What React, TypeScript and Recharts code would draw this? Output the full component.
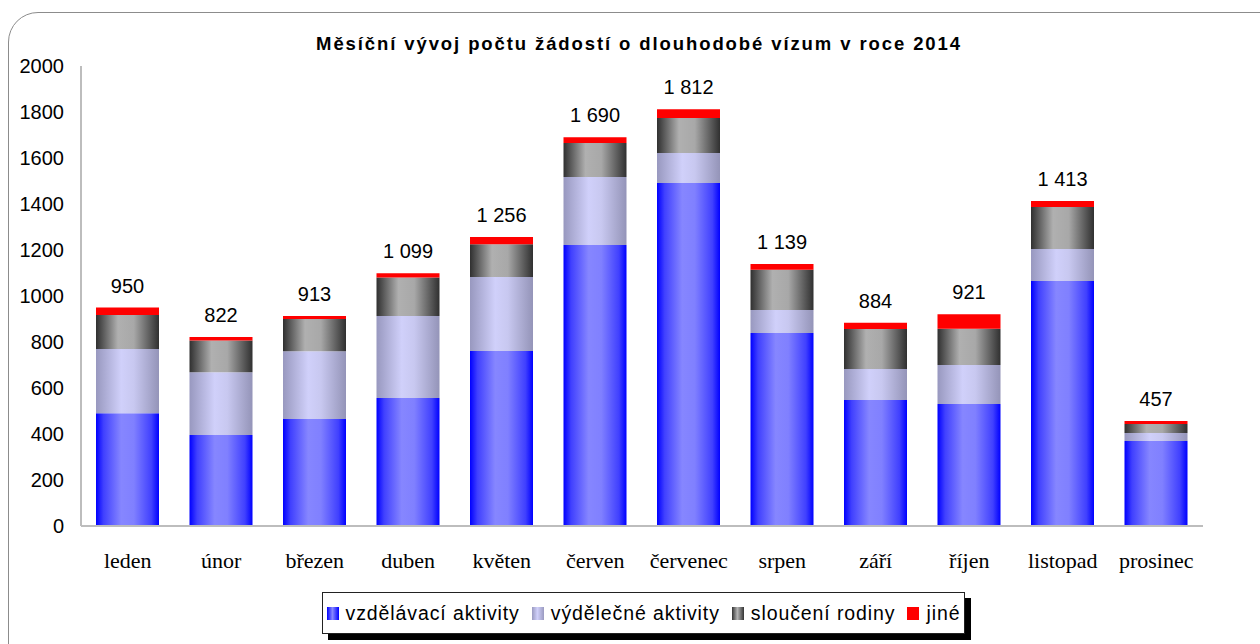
import React from "react";
import { BarChart, Bar, XAxis, YAxis, LabelList } from "recharts";

const months = [
  "leden", "únor", "březen", "duben", "květen", "červen",
  "červenec", "srpen", "září", "říjen", "listopad", "prosinec",
];
const education = [490, 396, 465, 556, 761, 1222, 1491, 839, 548, 530, 1065, 370];
const employment = [280, 272, 295, 357, 322, 295, 131, 100, 135, 170, 139, 34];
const family = [147, 139, 140, 167, 142, 148, 152, 175, 174, 158, 183, 39];
const other = [33, 15, 13, 19, 31, 25, 38, 25, 27, 63, 26, 14];
const yTicks = [0, 200, 400, 600, 800, 1000, 1200, 1400, 1600, 1800, 2000];

const data = months.map((month, i) => ({
  month,
  education: education[i],
  employment: employment[i],
  family: family[i],
  other: other[i],
  total: education[i] + employment[i] + family[i] + other[i],
}));

const formatTotal = (v: number) =>
  v >= 1000 ? `${Math.floor(v / 1000)} ${String(v % 1000).padStart(3, "0")}` : String(v);

const legendItems = [
  { name: "vzdělávací aktivity", fill: "linear-gradient(to right, #0000ff, #8888ff 45%, #0000ff)" },
  { name: "výdělečné aktivity", fill: "linear-gradient(to right, #9a9ac0, #d0d0fa 45%, #9a9ac0)" },
  { name: "sloučení rodiny", fill: "linear-gradient(to right, #333333, #b4b4b4 45%, #333333)" },
  { name: "jiné", fill: "#ff0000" },
];

const sans = "'Liberation Sans', Arial, sans-serif";

export default function App() {
  return (
    <div
      style={{
        position: "absolute",
        left: 0,
        top: 0,
        width: 1260,
        height: 644,
        overflow: "hidden",
        background: "#fff",
      }}
    >
      <div
        style={{
          position: "absolute",
          left: 8,
          top: 12,
          width: 1300,
          height: 700,
          border: "1.5px solid #8c8c8c",
          borderRadius: 30,
        }}
      />
      <div
        style={{
          position: "absolute",
          left: 0,
          top: 35,
          width: 1278,
          textAlign: "center",
          fontFamily: sans,
          fontWeight: "bold",
          fontSize: 18.5,
          lineHeight: "18px",
          letterSpacing: 1.9,
        }}
      >
        Měsíční vývoj počtu žádostí o dlouhodobé vízum v roce 2014
      </div>
      <div style={{ position: "absolute", left: 0, top: 0 }}>
        <BarChart
          width={1260}
          height={644}
          data={data}
          margin={{ top: 66, right: 57, bottom: 88, left: 0 }}
        >
          <defs>
            <linearGradient id="gEdu" x1="0" y1="0" x2="1" y2="0">
              <stop offset="0%" stopColor="#0000ff" />
              <stop offset="12%" stopColor="#4040ff" />
              <stop offset="40%" stopColor="#8686ff" />
              <stop offset="60%" stopColor="#8080ff" />
              <stop offset="88%" stopColor="#4040ff" />
              <stop offset="100%" stopColor="#0000ff" />
            </linearGradient>
            <linearGradient id="gEmp" x1="0" y1="0" x2="1" y2="0">
              <stop offset="0%" stopColor="#9898bf" />
              <stop offset="40%" stopColor="#d0d0fa" />
              <stop offset="60%" stopColor="#c8c8f0" />
              <stop offset="100%" stopColor="#9494b8" />
            </linearGradient>
            <linearGradient id="gFam" x1="0" y1="0" x2="1" y2="0">
              <stop offset="0%" stopColor="#303030" />
              <stop offset="35%" stopColor="#b0b0b0" />
              <stop offset="60%" stopColor="#a8a8a8" />
              <stop offset="100%" stopColor="#303030" />
            </linearGradient>
          </defs>
          <XAxis
            dataKey="month"
            height={30}
            axisLine={{ stroke: "#bdbdbd", strokeWidth: 2 }}
            tickLine={false}
            tickSize={0}
            tickMargin={26}
            interval={0}
            tick={{ fill: "#000", fontSize: 22, fontFamily: "'Liberation Serif', 'Times New Roman', serif" }}
          />
          <YAxis
            width={81}
            domain={[0, 2000]}
            ticks={yTicks}
            interval={0}
            axisLine={{ stroke: "#bdbdbd", strokeWidth: 2 }}
            tickLine={false}
            tickSize={0}
            tickMargin={17}
            tick={{ fill: "#000", fontSize: 20, fontFamily: sans }}
          />
          <Bar dataKey="education" stackId="a" barSize={63} fill="url(#gEdu)" isAnimationActive={false} />
          <Bar dataKey="employment" stackId="a" barSize={63} fill="url(#gEmp)" isAnimationActive={false} />
          <Bar dataKey="family" stackId="a" barSize={63} fill="url(#gFam)" isAnimationActive={false} />
          <Bar dataKey="other" stackId="a" barSize={63} fill="#ff0000" isAnimationActive={false}>
            <LabelList
              dataKey="total"
              position="top"
              offset={15}
              formatter={(v: any) => formatTotal(Number(v))}
              style={{ fill: "#000", fontSize: 20, fontFamily: sans }}
            />
          </Bar>
        </BarChart>
      </div>
      <div
        style={{
          position: "absolute",
          left: 322,
          top: 592,
          width: 643,
          height: 42,
          boxSizing: "border-box",
          border: "1px solid #222",
          boxShadow: "6px 6px 0 #000",
          background: "#fff",
          display: "flex",
          alignItems: "center",
          justifyContent: "center",
          gap: 12,
          fontFamily: sans,
          fontSize: 19.5,
          letterSpacing: 0.9,
        }}
      >
        {legendItems.map((item) => (
          <div key={item.name} style={{ display: "flex", alignItems: "center", gap: 7 }}>
            <span style={{ display: "inline-block", width: 12, height: 13, background: item.fill }} />
            <span>{item.name}</span>
          </div>
        ))}
      </div>
    </div>
  );
}
